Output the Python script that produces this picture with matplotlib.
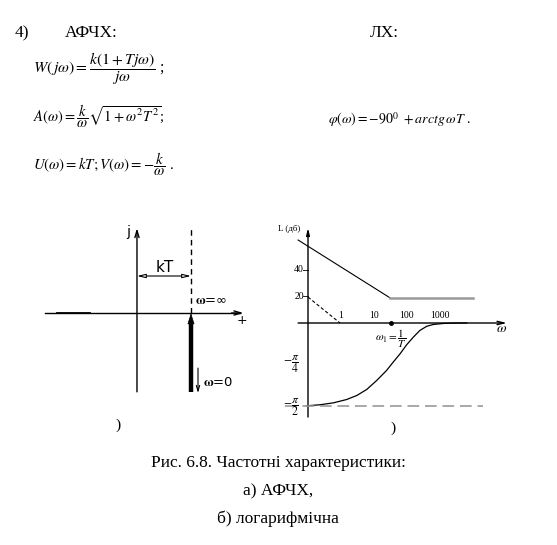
import numpy as np
import matplotlib.pyplot as plt

plt.rcParams['font.family'] = ['Liberation Serif', 'DejaVu Serif']
plt.rcParams['mathtext.fontset'] = 'stix'

# ---------------- data ----------------
# a) AFCH: U = kT (units of kT), V runs from -inf (cut) up to 0
U_kT = 1.0
V_cut = -1.46
# b) log. characteristics, x = log10(w)
w_ticks = [1, 10, 100, 1000]
db_ticks = [20, 40]
L_slope_x = [-1.3, 1.48]
L_slope_y = [62.4, 19.0]
L_flat_x = [1.48, 4.0]
L_flat_y = [19.0, 19.0]
L_low_x = [-1.0, -0.03]
L_low_y = [19.5, 0.0]
w1 = 1.52
phi_x = [-1.04, -0.64, -0.23, 0.17, 0.48, 0.78, 1.08, 1.38, 1.58, 1.79,
         1.99, 2.19, 2.39, 2.60, 2.80, 3.10, 3.50, 3.81]
phi_deg = [-89.8, -88.7, -86.6, -83.0, -78.6, -72.1, -62.4, -51.5, -42.5, -33.4,
           -23.6, -15.4, -8.1, -3.5, -1.6, -0.5, 0.0, 0.0]

W, H = 557, 545
fig = plt.figure(figsize=(W / 100, H / 100), dpi=100)

def put(x, y, s, **kw):
    kw.setdefault('va', 'center')
    fig.text(x / W, 1 - y / H, s, **kw)

def pos(x0, y0, x1, y1):
    return [x0 / W, 1 - y1 / H, (x1 - x0) / W, (y1 - y0) / H]

# ---------------- header text and formulas ----------------
put(15, 33, '4)', fontsize=12.5)
put(65, 33, 'АФЧХ:', fontsize=12.5)
put(370, 33, 'ЛХ:', fontsize=12.5)
put(33, 69, r'$W(\,j\omega) = \dfrac{k(1+Tj\omega)}{j\omega}$ ;', fontsize=11.3)
put(33, 116, r'$A(\omega) = \dfrac{k}{\omega}\sqrt{1+\omega^2T^2}$;', fontsize=10.5)
put(33, 164, r'$U(\omega) = kT;V(\omega) = -\dfrac{k}{\omega}$ .', fontsize=10.7)
put(328, 120, r'$\varphi(\omega) = -90^0\ + arctg\,\omega T$ .', fontsize=10)

# ---------------- a) AFCH ----------------
ax = fig.add_axes(pos(40, 222, 250, 400))
ax.set_xlim(-1.796, 2.093)
ax.set_ylim(-1.611, 1.685)
ax.set_axis_off()
ax.plot([-1.70, 1.90], [0, 0], color='k', lw=1)
ax.plot([-1.48, -0.87], [0, 0], color='k', lw=1.3)
ax.annotate('', xy=(1.97, 0), xytext=(1.75, 0),
            arrowprops=dict(arrowstyle='->,head_length=0.5,head_width=0.15', lw=1, shrinkA=0, shrinkB=0))
ax.annotate('', xy=(0, 1.57), xytext=(0, V_cut),
            arrowprops=dict(arrowstyle='->,head_length=0.5,head_width=0.15', lw=1, shrinkA=0, shrinkB=0))
ax.plot([U_kT, U_kT], [0, 1.57], color='k', lw=1, ls=(0, (4, 3)))
ax.plot([U_kT, U_kT], [V_cut, -0.2], color='k', lw=3.2, solid_capstyle='butt')
ax.annotate('', xy=(U_kT, 0), xytext=(U_kT, -0.3),
            arrowprops=dict(arrowstyle='-|>,head_length=0.7,head_width=0.22', lw=0.5, color='k', shrinkA=0, shrinkB=0))
ax.annotate('', xy=(0, 0.685), xytext=(U_kT, 0.685),
            arrowprops=dict(arrowstyle='<|-|>,head_length=0.5,head_width=0.12', lw=0.8, shrinkA=0, shrinkB=0, fc='w'))
ax.annotate('', xy=(1.13, -1.48), xytext=(1.13, -1.02),
            arrowprops=dict(arrowstyle='->,head_length=0.4,head_width=0.12', lw=0.8, shrinkA=0, shrinkB=0))
put(128, 232, 'j', fontsize=10, family='DejaVu Sans', ha='center')
put(165, 268, 'kT', fontsize=11, family='DejaVu Sans', ha='center')
put(195, 300, r'$\mathbf{\omega}$=∞', fontsize=9.5, family='DejaVu Sans', ha='left')
put(203, 383, r'$\mathbf{\omega}$=0', fontsize=9.5, family='DejaVu Sans', ha='left')
put(242, 321, '+', fontsize=9, family='DejaVu Sans', ha='center')
put(118, 425, ')', fontsize=11, ha='center')

# ---------------- b) L and phase ----------------
px_db, px_deg = 1.33, 0.922
box = (278, 222, 515, 422)
axL = fig.add_axes(pos(*box))
axL.set_xlim((278 - 341) / 33, (515 - 341) / 33)
axL.set_ylim(-(422 - 323) / px_db, (323 - 222) / px_db)
axL.set_axis_off()
axP = fig.add_axes(pos(*box))
axP.set_xlim(axL.get_xlim())
axP.set_ylim(-(422 - 323) / px_deg, (323 - 222) / px_deg)
axP.set_axis_off()
axP.patch.set_alpha(0)

axL.annotate('', xy=(5.03, 0), xytext=(-1.3, 0),
             arrowprops=dict(arrowstyle='->,head_length=0.5,head_width=0.12', lw=1, shrinkA=0, shrinkB=0))
axL.annotate('', xy=(-1.0, 71.4), xytext=(-1.0, -70.7),
             arrowprops=dict(arrowstyle='-|>,head_length=0.4,head_width=0.1', lw=1, color='k', shrinkA=0, shrinkB=0))
axL.plot(L_slope_x, L_slope_y, color='k', lw=0.8)
axL.plot(L_flat_x, L_flat_y, color='#999999', lw=1.8)
axL.plot(L_low_x, L_low_y, color='k', lw=0.8, ls=(0, (3, 2)))
axL.plot([w1], [0], 'o', color='k', ms=2.5)
for v in db_ticks:
    axL.plot([-1.15, -1.0], [v, v], color='k', lw=0.6)
    axL.text(-1.12, v, str(v), fontsize=7, ha='right', va='center')
for v in w_ticks:
    axL.text(np.log10(v), 6, str(v), fontsize=7, ha='center', va='center')
axL.text(4.85, -4, r'$\omega$', fontsize=10, ha='center', va='center')
axL.text(-1.9, 71, 'L (дб)', fontsize=6.5, ha='left', va='center')
axL.text(1.5, -11.5, r'$\omega_1 = \dfrac{1}{T}$', fontsize=8, ha='center', va='center')

axP.plot(phi_x, phi_deg, color='k', lw=0.9)
axP.plot([-1.7, 4.3], [-90, -90], color='#999999', lw=1.2, ls=(0, (7, 3.5)))
axP.text(-1.5, -45, r'$-\dfrac{\pi}{4}$', fontsize=8.5, ha='center', va='center')
axP.text(-1.5, -91, r'$-\dfrac{\pi}{2}$', fontsize=8.5, ha='center', va='center')
put(393, 428, ')', fontsize=11, ha='center')

# ---------------- caption ----------------
put(278, 463, 'Рис. 6.8. Частотні характеристики:', fontsize=12.5, ha='center')
put(278, 491, 'а) АФЧХ,', fontsize=12.5, ha='center')
put(278, 519, 'б) логарифмічна', fontsize=12.5, ha='center')

fig.savefig('out.png', dpi=100)
